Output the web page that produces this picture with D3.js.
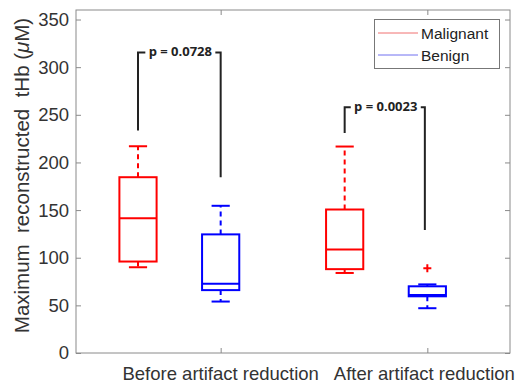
<!DOCTYPE html>
<html>
<head>
<meta charset="utf-8">
<script src="https://d3js.org/d3.v7.min.js"></script>
<style>
  body { margin: 0; background: #fff; }
  text { font-family: "Liberation Sans", Arial, sans-serif; }
</style>
</head>
<body>
<div id="chart"></div>
<script>
// data
const categories = ["Before artifact reduction", "After artifact reduction"];
const groups = ["Malignant", "Benign"];
const boxPos = [1, 2, 3.5, 4.5];
const boxGroup = ["Malignant", "Benign", "Malignant", "Benign"];
const whiskerLow = [90, 54, 84, 47];
const q1 = [96, 66, 88, 59.5];
const median = [141.5, 72.7, 108.7, 61];
const q3 = [184.5, 124.5, 150.6, 70];
const whiskerHigh = [217, 154.5, 216.7, 72];
const outliers = [[], [], [], [89]];
const tickPos = [2, 4.5];
const yTicks = [0, 50, 100, 150, 200, 250, 300, 350];
// significance brackets: [left pos, right pos, top, left end, right end, label]
const brackets = [
  [1, 2, 315.5, 233.5, 184.5, "p = 0.0728"],
  [3.5, 4.47, 258, 231, 129, "p = 0.0023"]
];

const W = 516, H = 385;
const colors = { Malignant: "#ff0000", Benign: "#0000ff" };

const svg = d3.select("#chart").append("svg")
  .attr("width", W).attr("height", H);

const x = d3.scaleLinear().domain([0.25, 5.5]).range([76, 510]);
const y = d3.scaleLinear().domain([0, 360]).range([353, 10]);

// frame
svg.append("rect")
  .attr("x", x(0.25)).attr("y", y(360))
  .attr("width", x(5.5) - x(0.25)).attr("height", y(0) - y(360))
  .attr("fill", "none").attr("stroke", "#8a8a8a").attr("stroke-width", 1);

// axes
const yAxis = svg.append("g").attr("transform", `translate(${x(0.25)},0)`)
  .call(d3.axisLeft(y).tickValues(yTicks).tickSize(-5).tickPadding(7));
const yAxisR = svg.append("g").attr("transform", `translate(${x(5.5)},0)`)
  .call(d3.axisRight(y).tickValues(yTicks).tickSize(-5).tickFormat(""));
const xAxis = svg.append("g").attr("transform", `translate(0,${y(0)})`)
  .call(d3.axisBottom(x).tickValues(tickPos).tickSize(-5).tickPadding(12)
    .tickFormat((d, i) => categories[i]));
const xAxisT = svg.append("g").attr("transform", `translate(0,${y(360)})`)
  .call(d3.axisTop(x).tickValues(tickPos).tickSize(-5).tickFormat(""));

[yAxis, yAxisR, xAxis, xAxisT].forEach(g => {
  g.select(".domain").remove();
  g.selectAll(".tick line").attr("stroke", "#8a8a8a");
  g.selectAll("text").attr("fill", "#333").attr("font-size", 18.5)
    .style("font-family", "'Liberation Sans', Arial, sans-serif");
});
xAxis.selectAll("text").attr("font-size", 18.5).attr("dy", "0.8em")
  .attr("dx", (d, i) => i === 1 ? -3.5 : -0.5);

// y label
svg.append("text")
  .attr("transform", `translate(29,${(y(0) + y(360)) / 2 - 6}) rotate(-90)`)
  .attr("text-anchor", "middle")
  .attr("font-size", 20.5).attr("fill", "#333")
  .html('Maximum  reconstructed  tHb (<tspan font-style="italic">μ</tspan>M)')
  .style("white-space", "pre");

// boxes
const hw = 0.225, cw = 0.11;
boxPos.forEach((p, i) => {
  const c = colors[boxGroup[i]];
  const g = svg.append("g").attr("stroke", c).attr("fill", "none").attr("stroke-width", 2);
  // whiskers
  g.append("line").attr("x1", x(p)).attr("x2", x(p))
    .attr("y1", y(q3[i])).attr("y2", y(whiskerHigh[i])).attr("stroke-dasharray", "5,4");
  g.append("line").attr("x1", x(p)).attr("x2", x(p))
    .attr("y1", y(q1[i])).attr("y2", y(whiskerLow[i])).attr("stroke-dasharray", "5,4");
  g.append("line").attr("x1", x(p - cw)).attr("x2", x(p + cw))
    .attr("y1", y(whiskerHigh[i])).attr("y2", y(whiskerHigh[i]));
  g.append("line").attr("x1", x(p - cw)).attr("x2", x(p + cw))
    .attr("y1", y(whiskerLow[i])).attr("y2", y(whiskerLow[i]));
  g.append("rect").attr("x", x(p - hw)).attr("y", y(q3[i]))
    .attr("width", x(p + hw) - x(p - hw)).attr("height", y(q1[i]) - y(q3[i]));
  g.append("line").attr("x1", x(p - hw)).attr("x2", x(p + hw))
    .attr("y1", y(median[i])).attr("y2", y(median[i]));
  outliers[i].forEach(o => {
    svg.append("path")
      .attr("transform", `translate(${x(p)},${y(o)})`)
      .attr("fill", "none").attr("stroke", "#ff0000").attr("stroke-width", 2)
      .attr("d", "M-4,0H4M0,-4V4");
  });
});

// brackets
brackets.forEach(b => {
  const [l, r, top, le, re, label] = b;
  const xl = x(l), xr = x(r), yt = y(top);
  const mid = (xl + xr) / 2;
  const tw = 62;
  svg.append("path")
    .attr("d", `M${xl},${y(le)}V${yt}H${mid - tw / 2 - 3}M${mid + tw / 2 + 5},${yt}H${xr}V${y(re)}`)
    .attr("fill", "none").attr("stroke", "#222").attr("stroke-width", 2);
  svg.append("text").attr("x", mid + 1).attr("y", yt + 4)
    .attr("text-anchor", "middle").attr("font-size", 13).attr("font-weight", "bold")
    .attr("fill", "#222").style("font-family", "'Open Sans', sans-serif")
    .text(label);
});

// legend
const lg = svg.append("g");
lg.append("rect").attr("x", 374.5).attr("y", 19.5).attr("width", 125).attr("height", 49)
  .attr("fill", "#fff").attr("stroke", "#777").attr("stroke-width", 1);
groups.forEach((gname, i) => {
  const ly = 33 + i * 22;
  lg.append("line").attr("x1", 378).attr("x2", 418).attr("y1", ly).attr("y2", ly)
    .attr("stroke", gname === "Malignant" ? "#f07070" : "#7070f0").attr("stroke-width", 1);
  lg.append("text").attr("x", 421).attr("y", ly + 6).attr("font-size", 15.5)
    .attr("fill", "#222").text(gname);
});
</script>
</body>
</html>
